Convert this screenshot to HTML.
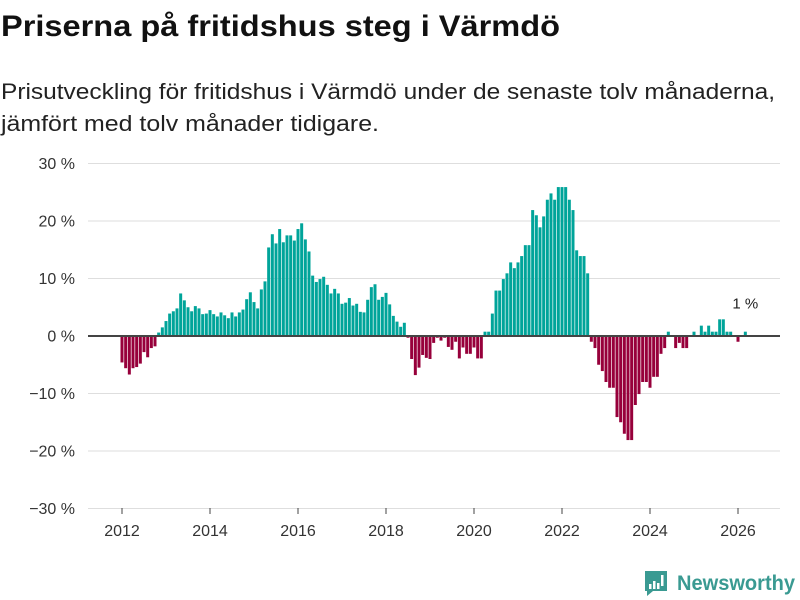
<!DOCTYPE html>
<html><head><meta charset="utf-8"><style>
html,body{margin:0;padding:0;background:#fff;}
svg{display:block;font-family:"Liberation Sans",sans-serif;}
</style></head><body>
<svg id="chart" width="800" height="600" viewBox="0 0 800 600" xmlns="http://www.w3.org/2000/svg">
<text x="1" y="36" font-size="30" font-weight="bold" fill="#111" textLength="559" lengthAdjust="spacingAndGlyphs">Priserna på fritidshus steg i Värmdö</text>
<text x="1" y="99" font-size="22" fill="#222" textLength="774" lengthAdjust="spacingAndGlyphs">Prisutveckling för fritidshus i Värmdö under de senaste tolv månaderna,</text>
<text x="1" y="131" font-size="22" fill="#222" textLength="378" lengthAdjust="spacingAndGlyphs">jämfört med tolv månader tidigare.</text>
<g id="grid"></g>
<g id="yaxis"></g>
<g id="xaxis"></g>
<g id="bars"></g>
<line id="zero" x1="88" x2="780" stroke="#444" stroke-width="2"/>
<text id="lastlabel" font-size="15" fill="#222" text-anchor="middle">1 %</text>
<g>
<path d="M645 571 h22 v20 h-14 l-6 5 v-5 h-2 z" fill="#3a9a92"/>
<rect x="649" y="584" width="2.5" height="5" fill="#fff"/>
<rect x="653" y="581" width="2.5" height="8" fill="#fff"/>
<rect x="657" y="583" width="2.5" height="6" fill="#fff"/>
<rect x="661" y="575" width="2.5" height="11" fill="#fff"/>
<text x="677" y="590" font-size="21" font-weight="bold" fill="#3a9a92" textLength="118" lengthAdjust="spacingAndGlyphs">Newsworthy</text>
</g>
</svg>
<script>
const startYear = 2012;
const values = [
-4.6,-5.6,-6.7,-5.6,-5.4,-4.8,-2.8,-3.7,-2.1,-1.8,
0.6,1.5,2.6,3.9,4.3,4.8,7.4,6.2,5.0,4.3,
5.2,4.8,3.8,3.9,4.5,3.8,3.4,4.1,3.6,3.1,
4.1,3.4,4.1,4.6,6.4,7.6,5.9,4.8,8.1,9.5,
15.4,17.7,16.1,18.6,16.3,17.5,17.5,16.6,18.6,19.6,
16.8,14.7,10.5,9.4,9.9,10.3,8.9,7.4,8.2,7.4,
5.6,5.8,6.6,5.3,5.6,4.2,4.1,6.3,8.5,9.0,
6.3,6.8,7.5,5.5,3.5,2.5,1.6,2.3,-0.3,-4.0,
-6.8,-5.5,-3.3,-3.8,-4.0,-1.2,-0.3,-0.8,-0.3,-1.9,
-2.4,-1.0,-3.9,-2.0,-3.1,-3.1,-2.0,-3.9,-3.9,0.75,
0.75,3.9,7.9,7.9,9.9,10.9,12.8,11.8,12.8,13.9,
15.8,15.8,21.9,21.0,18.9,20.8,23.7,24.8,23.7,25.9,
25.9,25.9,23.7,21.9,14.9,13.9,13.9,10.9,-1.0,-2.1,
-5.0,-6.1,-8.0,-9.0,-9.0,-14.1,-15.0,-17.0,-18.1,-18.1,
-12.0,-10.1,-8.0,-8.0,-9.0,-7.1,-7.1,-3.1,-2.1,0.75,
0,-2.1,-1.2,-2.1,-2.1,0,0.75,0,1.8,0.75,
1.8,0.75,0.75,2.9,2.9,0.75,0.75,0,-1.0,0,
0.75
];
const yTicks = [30,20,10,0,-10,-20,-30];
const yTickLabels = ["30 %","20 %","10 %","0 %","\u221210 %","\u221220 %","\u221230 %"];
const xTicks = [2012,2014,2016,2018,2020,2022,2024,2026];
const lastLabel = "1 %";

const NS = "http://www.w3.org/2000/svg";
function y(v){ return 336 - v*5.75; }
function xYear(yr){ return 122 + (yr-2012)*44; }
function xMonth(i){ return 122 + i*44/12; }

const grid = document.getElementById('grid');
const yaxis = document.getElementById('yaxis');
yTicks.forEach((t,k)=>{
  const ln = document.createElementNS(NS,'line');
  
  
  ln.setAttribute('x1',88); ln.setAttribute('x2',780);
  ln.setAttribute('y1',y(t)); ln.setAttribute('y2',y(t));
  ln.setAttribute('stroke','#dedede'); ln.setAttribute('stroke-width','1');
  grid.appendChild(ln);
  const tx = document.createElementNS(NS,'text');
  
  
  tx.setAttribute('x',75); tx.setAttribute('y',y(t)+5.5);
  tx.setAttribute('text-anchor','end'); tx.setAttribute('font-size','16'); tx.setAttribute('fill','#333');
  tx.textContent = yTickLabels[k];
  yaxis.appendChild(tx);
});
const xaxis = document.getElementById('xaxis');
xTicks.forEach(t=>{
  const tk = document.createElementNS(NS,'line');
  
  
  tk.setAttribute('x1',xYear(t)); tk.setAttribute('x2',xYear(t));
  tk.setAttribute('y1',508); tk.setAttribute('y2',514);
  tk.setAttribute('stroke','#444');
  xaxis.appendChild(tk);
  const tx = document.createElementNS(NS,'text');
  
  
  tx.setAttribute('x',xYear(t)); tx.setAttribute('y',536);
  tx.setAttribute('text-anchor','middle'); tx.setAttribute('font-size','16'); tx.setAttribute('fill','#333');
  tx.textContent = t;
  xaxis.appendChild(tx);
});
const bars = document.getElementById('bars');
values.forEach((v,i)=>{
  if(v===0) return;
  const r = document.createElementNS(NS,'rect');
  
  
  const cx = xMonth(i);
  r.setAttribute('x',cx-1.5); r.setAttribute('width',3);
  r.setAttribute('y',Math.min(y(v),y(0))); r.setAttribute('height',Math.abs(y(v)-y(0)));
  r.setAttribute('fill', v>0 ? '#00a49a' : '#97003b');
  bars.appendChild(r);
});
const z = document.getElementById('zero');
z.setAttribute('y1',y(0)); z.setAttribute('y2',y(0));
const ll = document.getElementById('lastlabel');
ll.setAttribute('x', xMonth(values.length-1));
ll.setAttribute('y', y(values[values.length-1]) - 23);
ll.textContent = lastLabel;
</script>
</body></html>
